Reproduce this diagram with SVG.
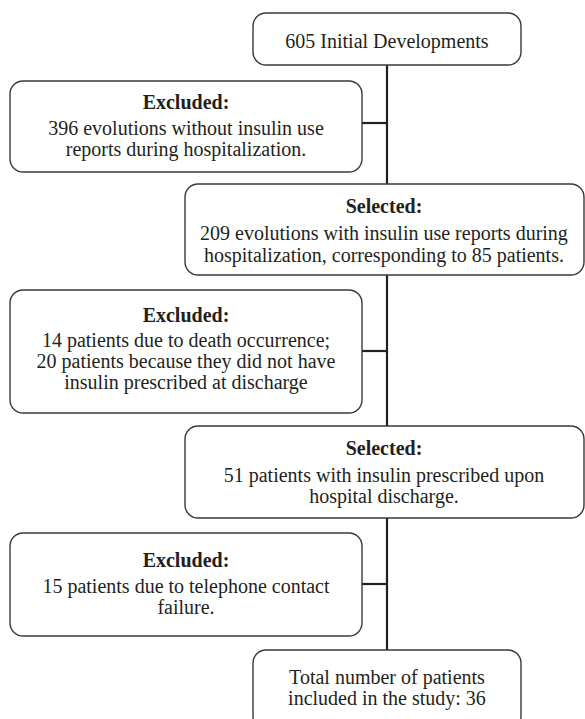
<svg xmlns="http://www.w3.org/2000/svg" width="585" height="719" viewBox="0 0 585 719">
<style>
.box{fill:#fff;stroke:#3a3a3a;stroke-width:1.4}
.t{font-family:'Liberation Serif','Times New Roman',Tinos,'DejaVu Serif',serif;font-size:20px;fill:#231f20;text-anchor:middle}
.b{font-weight:bold}
.c{stroke:#231f20;stroke-width:2.2;fill:none}
</style>
<rect width="585" height="719" fill="#fff"/>
<g id="connectors">
<line class="c" x1="387" y1="65" x2="387" y2="184"/>
<line class="c" x1="362" y1="123" x2="387" y2="123"/>
<line class="c" x1="387" y1="275" x2="387" y2="426"/>
<line class="c" x1="362" y1="351" x2="387" y2="351"/>
<line class="c" x1="387" y1="518" x2="387" y2="650"/>
<line class="c" x1="362" y1="584" x2="387" y2="584"/>
</g>
<g id="n1">
<rect class="box" x="253" y="13" width="268" height="52" rx="13"/>
<text class="t" x="387" y="48">605 Initial Developments</text>
</g>
<g id="n2">
<rect class="box" x="10" y="81" width="352" height="91" rx="13"/>
<text class="t b" x="186" y="109">Excluded:</text>
<text class="t" x="186" y="135">396 evolutions without insulin use</text>
<text class="t" x="186" y="156">reports during hospitalization.</text>
</g>
<g id="n3">
<rect class="box" x="185" y="184" width="399" height="91" rx="13"/>
<text class="t b" x="384" y="213">Selected:</text>
<text class="t" x="384" y="240">209 evolutions with insulin use reports during</text>
<text class="t" x="384" y="262">hospitalization, corresponding to 85 patients.</text>
</g>
<g id="n4">
<rect class="box" x="10" y="290" width="352" height="123" rx="13"/>
<text class="t b" x="186" y="322">Excluded:</text>
<text class="t" x="186" y="347">14 patients due to death occurrence;</text>
<text class="t" x="186" y="368">20 patients because they did not have</text>
<text class="t" x="186" y="389">insulin prescribed at discharge</text>
</g>
<g id="n5">
<rect class="box" x="185" y="426" width="399" height="92" rx="13"/>
<text class="t b" x="384" y="455">Selected:</text>
<text class="t" x="384" y="482">51 patients with insulin prescribed upon</text>
<text class="t" x="384" y="503">hospital discharge.</text>
</g>
<g id="n6">
<rect class="box" x="10" y="533" width="352" height="103" rx="13"/>
<text class="t b" x="186" y="567">Excluded:</text>
<text class="t" x="186" y="593">15 patients due to telephone contact</text>
<text class="t" x="186" y="614">failure.</text>
</g>
<g id="n7">
<rect class="box" x="253" y="650" width="268" height="80" rx="13"/>
<text class="t" x="387" y="684">Total number of patients</text>
<text class="t" x="387" y="705">included in the study: 36</text>
</g>
</svg>
